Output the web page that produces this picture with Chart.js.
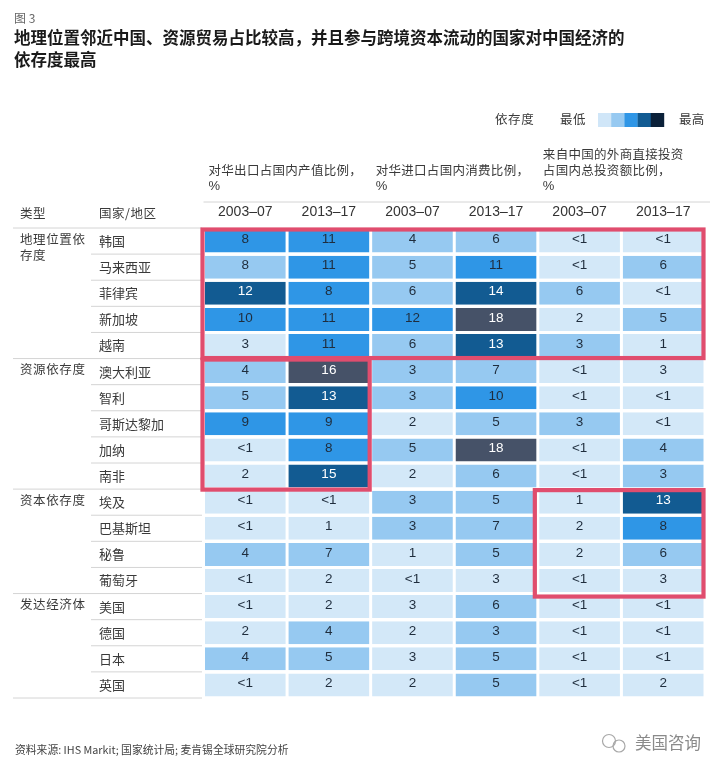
<!DOCTYPE html>
<html lang="zh"><head><meta charset="utf-8">
<script src="https://cdn.jsdelivr.net/npm/chart.js@4"></script>
<style>html,body{margin:0;padding:0;background:#fff}canvas{display:block}</style>
</head><body><canvas id="c" width="725" height="762"></canvas>
<script>
const countries = ["韩国","马来西亚","菲律宾","新加坡","越南","澳大利亚","智利","哥斯达黎加","加纳","南非","埃及","巴基斯坦","秘鲁","葡萄牙","美国","德国","日本","英国"];
const periods = ["2003–07","2013–17","2003–07","2013–17","2003–07","2013–17"];
const LT1 = 0.5; // shown as "<1"
const exportShareEarly = [8,8,12,10,3,4,5,9,LT1,2,LT1,LT1,4,LT1,LT1,2,4,LT1];
const exportShareLate  = [11,11,8,11,11,16,13,9,8,15,LT1,1,7,2,2,4,5,2];
const importShareEarly = [4,5,6,12,6,3,3,2,5,2,3,3,1,LT1,3,2,3,2];
const importShareLate  = [6,11,14,18,13,7,10,5,18,6,5,7,5,3,6,3,5,5];
const fdiShareEarly    = [LT1,LT1,6,2,3,LT1,LT1,3,LT1,LT1,1,2,2,LT1,LT1,LT1,LT1,LT1];
const fdiShareLate     = [LT1,6,LT1,5,1,3,LT1,LT1,4,3,13,8,6,3,LT1,LT1,LT1,2];
const exportLevelEarly = [2,1,3,2,0,1,1,2,0,0,0,0,1,0,0,0,1,0];
const exportLevelLate  = [2,2,2,2,2,4,3,2,2,3,0,0,1,0,0,1,1,0];
const importLevelEarly = [1,1,1,2,1,1,1,0,1,0,1,1,0,0,0,0,0,0];
const importLevelLate  = [1,2,3,4,3,1,2,1,4,1,1,1,1,0,1,1,1,1];
const fdiLevelEarly    = [0,0,1,0,1,0,0,1,0,0,0,0,0,0,0,0,0,0];
const fdiLevelLate     = [0,1,0,1,0,0,0,0,1,1,3,2,1,0,0,0,0,0];
const seriesValues = [exportShareEarly,exportShareLate,importShareEarly,importShareLate,fdiShareEarly,fdiShareLate];
const seriesLevels = [exportLevelEarly,exportLevelLate,importLevelEarly,importLevelLate,fdiLevelEarly,fdiLevelLate];
const cellColors = ["#d3e8f8","#96c9f1","#2f96e6","#125b92","#465268"];
const legendColors = ["#d0e6f8","#96c9f1","#2f96e6","#125b92","#0b2139"];
const groups = [
  {lines:["地理位置依","存度"],first:0,count:5},
  {lines:["资源依存度"],first:5,count:5},
  {lines:["资本依存度"],first:10,count:4},
  {lines:["发达经济体"],first:14,count:4}
];
const highlightBoxes = [
  {cols:[0,6],rows:[0,5]},
  {cols:[0,2],rows:[5,10]},
  {cols:[4,6],rows:[10,14]}
];
const columnHeads = [
  {col:0,lines:["对华出口占国内产值比例，","%"]},
  {col:2,lines:["对华进口占国内消费比例，","%"]},
  {col:4,lines:["来自中国的外商直接投资","占国内总投资额比例，","%"]}
];
const figLabel = "图 3";
const titleLines = ["地理位置邻近中国、资源贸易占比较高，并且参与跨境资本流动的国家对中国经济的","依存度最高"];
const sourceNote = "资料来源: IHS Markit; 国家统计局; 麦肯锡全球研究院分析";

const CJK = '"Noto Sans CJK SC","Noto Sans",sans-serif';
const LAT = '"Liberation Sans",Arial,sans-serif';
const INK = "#3a3a3a";

function put(ctx, s, x, y, font, color, align, spacing){
  ctx.font = font; ctx.fillStyle = color; ctx.textAlign = align || "left"; ctx.textBaseline = "middle";
  ctx.letterSpacing = (spacing || 0) + "px";
  ctx.fillText(s, x, y);
  ctx.letterSpacing = "0px";
}

const tablePlugin = {
  id: "table",
  beforeDatasetsDraw(chart){
    const {ctx, scales:{x, y}} = chart;
    const band = y.getPixelForValue(1) - y.getPixelForValue(0);
    const edge = r => y.getPixelForValue(0) - band/2 + r*band;
    ctx.save();
    ctx.strokeStyle = "#d4d4d4"; ctx.lineWidth = 1;
    const line = (a,b,yy) => { ctx.beginPath(); ctx.moveTo(a,yy+.5); ctx.lineTo(b,yy+.5); ctx.stroke(); };
    line(x.getPixelForValue(0), 710, 201.5);
    const groupStart = new Set(groups.map(g=>g.first));
    for (let r=0;r<=countries.length;r++){
      const full = groupStart.has(r) || r===countries.length;
      line(full ? 13 : 91, 202, edge(r)-.5);
    }
    ctx.restore();
  },
  afterDatasetsDraw(chart){
    const {ctx, scales:{x, y}} = chart;
    const band = y.getPixelForValue(1) - y.getPixelForValue(0);
    const edge = r => y.getPixelForValue(0) - band/2 + r*band;
    ctx.save();
    // cell values
    seriesValues.forEach((vals,c)=>vals.forEach((v,r)=>{
      const txt = v===LT1 ? "<1" : String(v);
      const col = seriesLevels[c][r]>=3 ? "#ffffff" : "#1f2d3d";
      put(ctx, txt, x.getPixelForValue(c+.5), y.getPixelForValue(r)-1.5, "13.5px "+LAT, col, "center");
    }));
    // highlight frames
    ctx.strokeStyle = "#e04d6e"; ctx.lineWidth = 4.2; ctx.lineJoin="miter";
    highlightBoxes.forEach(b=>{
      const l = x.getPixelForValue(b.cols[0])-(b.cols[0]?3:1), rr = x.getPixelForValue(b.cols[1])-(b.cols[1]===2?1:1.5);
      const t = edge(b.rows[0])+(b.rows[0]?1:1.5), bt = edge(b.rows[1])+(b.rows[1]===14?3:(b.rows[1]===5?-.5:.5));
      ctx.strokeRect(l,t,rr-l,bt-t);
    });
    // left-hand heads and groups
    put(ctx,"类型",20,213,"12.5px "+CJK,INK,"left",.5);
    put(ctx,"国家/地区",99,213,"12.5px "+CJK,INK,"left",.5);
    groups.forEach(g=>g.lines.forEach((s,i)=>{
      put(ctx,s,20,y.getPixelForValue(g.first)-2+i*16.5,"12.5px "+CJK,INK,"left",.6);
    }));
    // column heads
    columnHeads.forEach(h=>{
      const n = h.lines.length;
      h.lines.forEach((s,i)=>{
        put(ctx,s,x.getPixelForValue(h.col)+5,186-(n-1-i)*15.7,(s==="%"?"13px "+LAT:"12.5px "+CJK),INK,"left",s==="%"?0:.3);
      });
    });
    // title block
    put(ctx,figLabel,14,18,"12px "+CJK,"#666");
    titleLines.forEach((s,i)=>put(ctx,s,14,38+i*22,"bold 16.5px "+CJK,"#1a1a1a"));
    // legend
    put(ctx,"依存度",495,119,"12.5px "+CJK,INK,"left",.6);
    put(ctx,"最低",560,119,"12.5px "+CJK,INK,"left",.6);
    legendColors.forEach((c,i)=>{ ctx.fillStyle=c; ctx.fillRect(598+i*13.2,113,13.4,14); });
    put(ctx,"最高",679,119,"12.5px "+CJK,INK,"left",.2);
    // source & watermark
    put(ctx,sourceNote,15,750,"10.8px "+CJK,"#444");
    put(ctx,"美国咨询",635,743,"16.5px "+CJK,"#8a8a8a");
    ctx.strokeStyle="#a8a8a8"; ctx.lineWidth=1.2;
    ctx.beginPath(); ctx.arc(609,741,6.5,0,Math.PI*2); ctx.stroke();
    ctx.beginPath(); ctx.arc(619,746,6,0,Math.PI*2); ctx.stroke();
    ctx.restore();
  }
};

new Chart(document.getElementById("c"), {
  type: "bar",
  data: {
    labels: countries,
    datasets: seriesValues.map((vals,c)=>({
      label: periods[c],
      grouped: false,
      barPercentage: 0.88,
      categoryPercentage: 1,
      borderWidth: {left:1.5,right:1.5,top:0,bottom:0},
      borderColor: "#ffffff",
      borderSkipped: false,
      inflateAmount: 0,
      backgroundColor: ctx => cellColors[ctx.raw ? ctx.raw.level : 0],
      data: vals.map((v,r)=>({x:[c,c+1], y:countries[r], value:v, level:seriesLevels[c][r]}))
    }))
  },
  options: {
    indexAxis: "y",
    responsive: false,
    animation: false,
    events: [],
    layout: {padding:{left:99,top:202,right:20,bottom:64}},
    plugins: {legend:{display:false},title:{display:false},tooltip:{enabled:false}},
    scales: {
      x: {type:"linear",min:0,max:6,display:false},
      y: {type:"category",labels:countries,offset:true,
          grid:{display:false},border:{display:false},
          afterFit(s){ s.width = 104.5; },
          ticks:{autoSkip:false,crossAlign:"far",color:INK,font:{family:CJK,size:13},padding:0}},
      xTop: {type:"category",labels:periods,position:"top",offset:true,axis:"x",
          grid:{display:false,drawTicks:false},border:{display:false},
          afterFit(s){ s.height = 26; },
          ticks:{autoSkip:false,maxRotation:0,color:"#333",font:{family:LAT,size:14},padding:7}}
    }
  },
  plugins: [tablePlugin]
});
</script></body></html>
